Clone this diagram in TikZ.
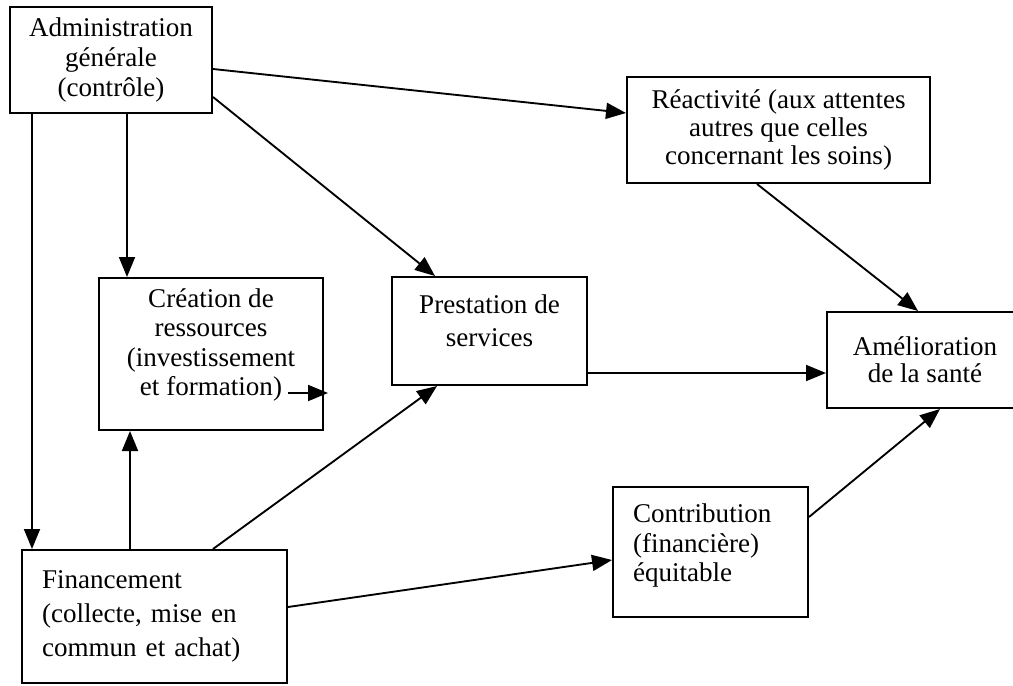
\documentclass[tikz,border=0pt]{standalone}
\usepackage{fontspec}
\setmainfont{Liberation Serif}
\usetikzlibrary{arrows.meta}
\begin{document}
\begin{tikzpicture}[x=0.75pt,y=-0.75pt,
  box/.style={draw, line width=1.5pt, inner sep=0pt, align=center,
    font=\fontsize{20.3}{22.5}\selectfont},
  leftbox/.style={box, align=left, inner xsep=15pt},
  arr/.style={line width=1.4pt, -{Triangle[length=15pt,width=12pt]}}]
\useasboundingbox (0,0) rectangle (1013,685);

\node[box, minimum width=202*0.75pt, minimum height=106*0.75pt] (adm) at (111,60)
  {Administration\\générale\\(contrôle)};
\node[box, minimum width=224*0.75pt, minimum height=152*0.75pt,
  font=\fontsize{20.3}{22}\selectfont] (cre) at (211,354)
  {Création de\\ressources\\(investissement\\et formation)\rule[-18pt]{0pt}{0pt}};
\node[box, minimum width=195*0.75pt, minimum height=108*0.75pt,
  font=\fontsize{20.3}{25}\selectfont] (pre) at (489.5,331)
  {Prestation de\\services\rule[-16pt]{0pt}{0pt}};
\node[box, minimum width=303*0.75pt, minimum height=106*0.75pt,
  font=\fontsize{20.3}{21}\selectfont] (rea) at (778.5,130)
  {Réactivité (aux attentes\\autres que celles\\concernant les soins)};
\node[box, minimum width=196*0.75pt, minimum height=96*0.75pt,
  font=\fontsize{20.3}{20}\selectfont] (ame) at (925,360)
  {Amélioration\\de la santé};
\node[leftbox, text width=195*0.75pt-30pt, minimum height=130*0.75pt,
  font=\fontsize{20.3}{22}\selectfont] (con) at (710.5,552)
  {Contribution\\(financière)\\équitable\rule[-14pt]{0pt}{0pt}};
\node[leftbox, text width=265*0.75pt-30pt, minimum height=133*0.75pt,
  font=\fontsize{20.3}{25.5}\selectfont] (fin) at (154.5,616.5)
  {Financement\\(collecte, mise en\\commun et achat)};

\coordinate (inner) at (288,393);

\draw[arr] (adm.south -| 32,0) -- (fin.north -| 32,0);
\draw[arr] (adm.south -| 127,0) -- (cre.north -| 127,0);
\draw[arr] (adm.east |- 0,69) -- (rea.west |- 0,113);
\draw[arr] (adm.east |- 0,97) -- (pre.north -| 435,0);
\draw[arr] (rea.south -| 757,0) -- (ame.north -| 918,0);
\draw[arr] (pre.east |- 0,373) -- (ame.west |- 0,373);
\draw[arr] (inner) -- ([xshift=3pt]cre.east |- inner);
\draw[arr] (fin.north -| 130,0) -- (cre.south -| 130,0);
\draw[arr] (fin.north -| 213,0) -- (pre.south -| 437,0);
\draw[arr] (fin.east |- 0,607) -- (con.west |- 0,560);
\draw[arr] (con.east |- 0,517) -- (ame.south -| 940,0);
\end{tikzpicture}
\end{document}
